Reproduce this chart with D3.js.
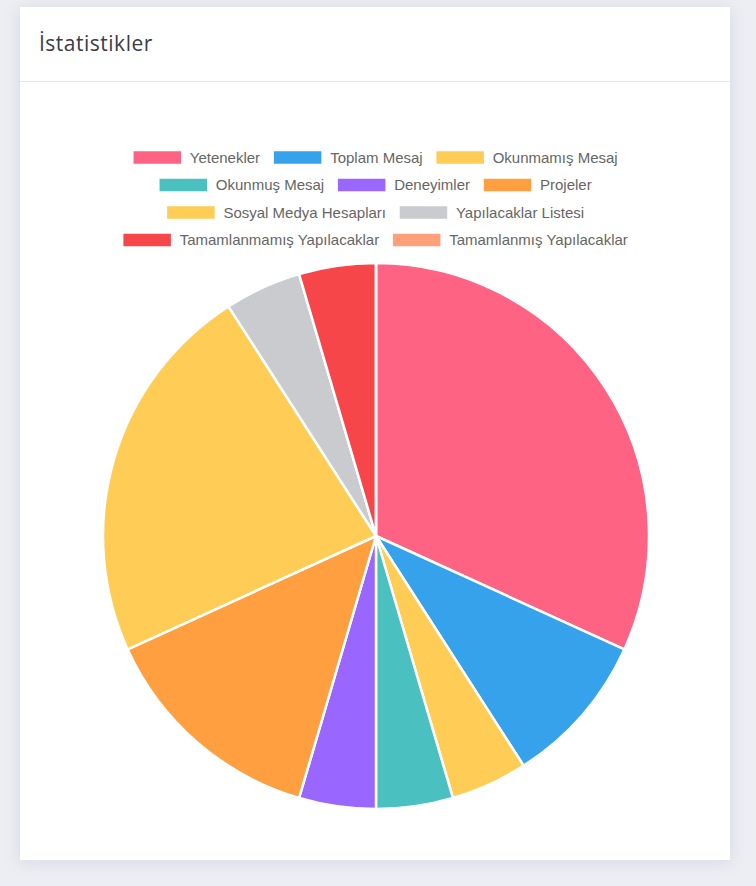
<!DOCTYPE html>
<html>
<head>
<meta charset="utf-8">
<script src="https://cdn.jsdelivr.net/npm/d3@7"></script>
<style>
  html, body { margin: 0; padding: 0; background: #eceef4; }
  body { width: 756px; height: 886px; overflow: hidden; }
  svg { display: block; }
</style>
</head>
<body>
<svg id="chart" width="756" height="886"></svg>
<script>
const titleText = "İstatistikler";
const categories = [
  "Yetenekler", "Toplam Mesaj", "Okunmamış Mesaj", "Okunmuş Mesaj", "Deneyimler",
  "Projeler", "Sosyal Medya Hesapları", "Yapılacaklar Listesi",
  "Tamamlanmamış Yapılacaklar", "Tamamlanmış Yapılacaklar"
];
const values = [7, 2, 1, 1, 1, 3, 5, 1, 1, 0];
const colors = [
  "#ff6384", "#36a2eb", "#ffcd56", "#4bc0c0", "#9966ff",
  "#ff9f40", "#ffcd56", "#c9cbcf", "#f7464a", "#ffa07a"
];

const svg = d3.select("#chart");
const defs = svg.append("defs");
const f = defs.append("filter").attr("id", "sh").attr("x", "-10%").attr("y", "-10%").attr("width", "120%").attr("height", "120%");
f.append("feDropShadow").attr("dx", 0).attr("dy", 2).attr("stdDeviation", 8).attr("flood-color", "#3a3b45").attr("flood-opacity", 0.10);

// card
svg.append("rect").attr("x", 20).attr("y", 7).attr("width", 710).attr("height", 853)
  .attr("fill", "#ffffff").attr("filter", "url(#sh)");
svg.append("line").attr("x1", 20).attr("x2", 730).attr("y1", 81.5).attr("y2", 81.5)
  .attr("stroke", "#e6e8ef").attr("stroke-width", 1);
svg.append("text").attr("x", 39).attr("y", 51)
  .attr("font-family", "'Open Sans', 'Noto Sans', sans-serif").attr("font-size", 21)
  .attr("letter-spacing", 0.5)
  .attr("fill", "#3a3d47").text(titleText);

// legend (Chart.js-like layout, scaled)
const fontSize = 15, boxW = 50, pad = 12.5, maxRow = 640, centerX = 375;
const legendFont = "'Liberation Sans', Arial, Helvetica, sans-serif";
const lg = svg.append("g");
const measure = lg.append("text").attr("font-family", legendFont).attr("font-size", fontSize);
const items = categories.map((c, i) => {
  measure.text(c);
  const tw = measure.node().getComputedTextLength();
  return { label: c, color: colors[i], w: boxW + fontSize / 2 + tw + pad };
});
measure.remove();
const rows = [[]];
let rw = 0;
items.forEach(it => {
  if (rw + it.w > maxRow && rows[rows.length - 1].length) { rows.push([]); rw = 0; }
  rows[rows.length - 1].push(it); rw += it.w;
});
const rowY0 = 157.5, rowH = 27.5;
rows.forEach((row, r) => {
  const total = d3.sum(row, d => d.w) - pad;
  let x = centerX - total / 2;
  const cy = rowY0 + r * rowH;
  row.forEach(it => {
    lg.append("rect").attr("x", x).attr("y", cy - 7.5).attr("width", boxW).attr("height", 15)
      .attr("fill", it.color).attr("stroke", "#ffffff").attr("stroke-width", 2.5);
    lg.append("text").attr("x", x + boxW + fontSize / 2).attr("y", cy)
      .attr("dy", "0.36em").attr("font-family", legendFont).attr("font-size", fontSize)
      .attr("fill", "#666666").text(it.label);
    x += it.w;
  });
});

// pie
const cx = 376, cy = 536, R = 273;
const pie = d3.pie().sort(null).value(d => d)(values);
const arc = d3.arc().innerRadius(0).outerRadius(R);
svg.append("g").attr("transform", `translate(${cx},${cy})`)
  .selectAll("path").data(pie).join("path")
  .attr("d", arc)
  .attr("fill", (d, i) => colors[i])
  .attr("stroke", "#ffffff").attr("stroke-width", 2.5).attr("stroke-linejoin", "round");
</script>
</body>
</html>
